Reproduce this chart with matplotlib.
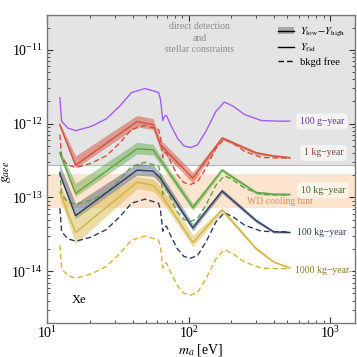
import numpy as np
import matplotlib
matplotlib.use("Agg")
import matplotlib.pyplot as plt
from matplotlib.patches import Patch
from matplotlib.lines import Line2D

plt.rcParams['font.family'] = ['Liberation Serif', 'DejaVu Serif']
plt.rcParams['mathtext.fontset'] = 'stix'

# background-free reach (dense mass grid), g_aee
m_bf = [12.24, 12.59, 13.9, 15.9, 20.4, 26.1, 32.5, 39.4, 49.1, 61.1, 63.1, 65.5, 67.4,
        69.6, 74.3, 83.1, 92.6, 103.3, 115.4, 132.3, 155.9, 178.7, 205.2, 248.3, 326.8,
        430.1, 518]
g_100g = np.array([2.25, 1.08, 0.872, 0.802, 0.918, 1.16, 1.73, 2.64, 2.99, 2.64, 2.13, 1.10,
                   1.26, 1.29, 0.969, 0.637, 0.500, 0.473, 0.515, 0.785, 1.47, 1.96, 1.73,
                   1.33, 1.10, 1.08, 1.08]) * 1e-12
bf_1kg = np.array([0.712, 0.342, 0.276, 0.254, 0.290, 0.367, 0.547, 0.835, 0.946, 0.835, 0.674,
                   0.348, 0.398, 0.408, 0.306, 0.201, 0.158, 0.150, 0.163, 0.248, 0.465, 0.620,
                   0.547, 0.421, 0.348, 0.342, 0.342]) * 1e-12
bf_10kg = np.array([0.225, 0.108, 0.0872, 0.0802, 0.0918, 0.116, 0.173, 0.264, 0.299, 0.264,
                    0.213, 0.110, 0.126, 0.129, 0.0969, 0.0637, 0.0500, 0.0473, 0.0515, 0.0785,
                    0.147, 0.196, 0.173, 0.133, 0.110, 0.108, 0.108]) * 1e-12
bf_100kg = np.array([7.12, 3.42, 2.76, 2.54, 2.90, 3.67, 5.47, 8.35, 9.46, 8.35, 6.74, 3.48,
                     3.98, 4.08, 3.06, 2.01, 1.58, 1.50, 1.63, 2.48, 4.65, 6.20, 5.47, 4.21,
                     3.48, 3.42, 3.42]) * 1e-14
bf_1000kg = np.array([2.25, 1.08, 0.872, 0.802, 0.918, 1.16, 1.73, 2.64, 2.99, 2.64, 2.13,
                      1.10, 1.26, 1.29, 0.969, 0.637, 0.500, 0.473, 0.515, 0.785, 1.47, 1.96,
                      1.73, 1.33, 1.10, 1.08, 1.08]) * 1e-14

# fiducial background and Y_low - Y_high band (coarse grid)
m_fid = [12.2, 15.8, 43, 56, 63, 107, 172, 300, 400, 520]
fid_1kg = np.array([9.69, 2.74, 10.65, 9.69, 5.15, 1.82, 6.37, 4.01, 3.65, 3.45]) * 1e-13
hi_1kg = np.array([10.3, 3.65, 12.9, 11.7, 6.04, 2.20, 6.74, 4.20, 3.76, 3.59]) * 1e-13
lo_1kg = np.array([9.10, 2.50, 9.10, 8.28, 4.41, 1.56, 6.04, 3.82, 3.53, 3.37]) * 1e-13

fid_10kg = np.array([4.05, 1.13, 4.55, 4.41, 3.21, 0.729, 2.34, 1.17, 1.11, 1.10]) * 1e-13
hi_10kg = np.array([4.55, 1.56, 5.58, 5.24, 3.65, 0.828, 2.50, 1.21, 1.13, 1.11]) * 1e-13
lo_10kg = np.array([3.65, 1.03, 3.88, 3.76, 2.83, 0.664, 2.20, 1.10, 1.06, 1.06]) * 1e-13

fid_100kg = np.array([21.1, 5.66, 23.4, 22.7, 18.2, 3.85, 12.2, 4.84, 3.42, 3.35]) * 1e-14
hi_100kg = np.array([28.3, 8.28, 28.8, 27.4, 21.3, 4.41, 13.1, 5.15, 3.53, 3.42]) * 1e-14
lo_100kg = np.array([19.4, 5.15, 20.0, 19.4, 15.6, 3.53, 11.3, 4.55, 3.27, 3.27]) * 1e-14

fid_1000kg = np.array([11.8, 3.35, 16.0, 14.6, 11.3, 2.44, 6.79, 2.03, 1.33, 1.11]) * 1e-14
hi_1000kg = np.array([14.6, 5.85, 19.1, 17.7, 14.2, 3.11, 7.29, 2.13, 1.37, 1.14]) * 1e-14
lo_1000kg = np.array([10.0, 2.34, 13.1, 12.1, 9.39, 2.13, 6.23, 1.91, 1.29, 1.08]) * 1e-14

excluded_g = 2.75e-13
wd_hint = (7.2e-14, 2.1e-13)

c_purple = '#a65cf2'
c_red = '#d4503c'
c_green = '#5ea540'
c_navy = '#2c3d60'
c_yellow = '#d4b43e'

fig = plt.figure(figsize=(3.57, 3.57), dpi=100)
ax = fig.add_axes([0.133, 0.096, 0.861, 0.863])
ax.set_xscale('log')
ax.set_yscale('log')
ax.set_xlim(10, 1500)
ax.set_ylim(2e-15, 3e-11)
ax.set_xticks([10, 100, 1000])
ax.set_yticks([1e-14, 1e-13, 1e-12, 1e-11])

ax.axhspan(excluded_g, 1, color='#e4e4e4', zorder=0, lw=0)
ax.axhline(excluded_g, color='#b8b8b8', lw=0.8, zorder=0.5)
ax.axhspan(*wd_hint, color='#fde4cf', zorder=0, lw=0)

dash = (0, (4, 2.2))
bands = [(lo_1kg, hi_1kg, fid_1kg, bf_1kg, c_red, 0.5),
         (lo_10kg, hi_10kg, fid_10kg, bf_10kg, c_green, 0.45),
         (lo_100kg, hi_100kg, fid_100kg, bf_100kg, c_navy, 0.4),
         (lo_1000kg, hi_1000kg, fid_1000kg, bf_1000kg, c_yellow, 0.45)]
for lo, hi, fid, bf, c, a in bands:
    ax.fill_between(m_fid, lo, hi, color=c, alpha=a, lw=0, zorder=2)
    ax.plot(m_fid, fid, color=c, lw=1.0, zorder=3)
    ax.plot(m_bf, bf, color=c, lw=1.0, ls=dash, zorder=3)
ax.plot(m_bf, g_100g, color=c_purple, lw=1.0, zorder=3)

box = dict(boxstyle='round,pad=0.35', fc='white', ec='none', alpha=0.6)
labels = [(877, 1.07e-12, '100 g\u2212year', '#6b2fa3'),
          (900, 4.0e-13, '1 kg\u2212year', '#8c3b35'),
          (890, 1.25e-13, '10 kg\u2212year', '#3d6a28'),
          (877, 3.32e-14, '100 kg\u2212year', c_navy),
          (877, 1.03e-14, '1000 kg\u2212year', '#8a7a22')]
for x, y, s, c in labels:
    ax.text(x, y, s, color=c, fontsize=7, ha='center', va='center', bbox=box, zorder=5)
ax.text(440, 8.7e-14, 'WD cooling hint', color='#de8f55', fontsize=7,
        ha='center', va='center', zorder=4)
ax.text(0.494, 0.923, 'direct detection\nand\nstellar constraints', transform=ax.transAxes,
        color='#8c8c8c', fontsize=7, ha='center', va='center', linespacing=1.35)
ax.text(0.08, 0.075, 'Xe', transform=ax.transAxes, fontsize=9, ha='left', va='center')

handles = [(Patch(facecolor='#a8a8a8', edgecolor='none'), Line2D([], [], color='k', lw=1.0)),
           Line2D([], [], color='k', lw=1.0),
           Line2D([], [], color='k', lw=1.0, ls=dash)]
names = [r'$Y_{\rm low}\!-\!Y_{\rm high}$', r'$Y_{\rm fid}$', 'bkgd free']
ax.legend(handles, names, loc='upper right', frameon=False, fontsize=7.5,
          handlelength=1.5, handletextpad=0.6, labelspacing=0.3,
          bbox_to_anchor=(1.0, 0.995))

ax.set_xlabel(r'$m_a$ [eV]', fontsize=10)
ax.set_ylabel(r'$g_{aee}$', fontsize=10)
ax.xaxis.set_label_coords(0.5, -0.062)
ax.yaxis.set_label_coords(-0.112, 0.49)
ax.tick_params(which='both', direction='in', top=True, right=True, labelsize=10,
               color='#333333')
ax.tick_params(axis='x', pad=2)
ax.tick_params(which='major', length=4)
ax.tick_params(which='minor', length=2)
for s in ax.spines.values():
    s.set_color('#777777')
    s.set_linewidth(1.0)

fig.savefig('out.png', dpi=100)
